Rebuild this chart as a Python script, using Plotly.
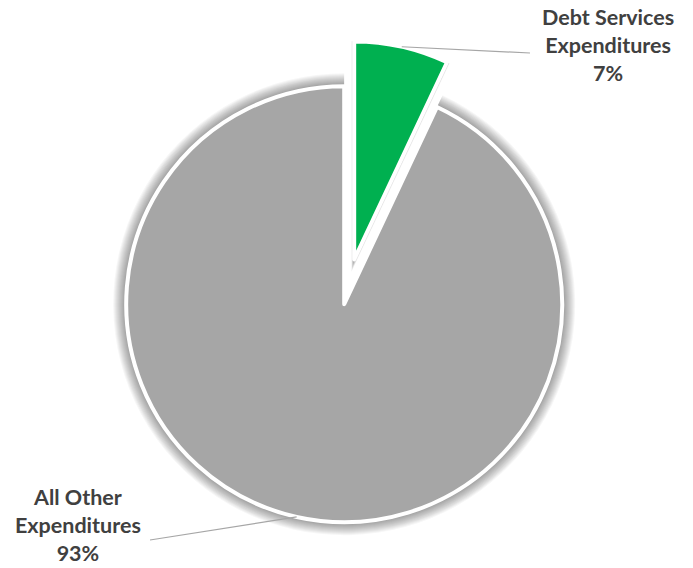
import math
import plotly.graph_objects as go

# Expenditure split
categories = ["Debt Services Expenditures", "All Other Expenditures"]
category_lines = [["Debt Services", "Expenditures"], ["All Other", "Expenditures"]]
shares = [7, 93]
slice_colors = ["#00B050", "#A6A6A6"]
explode = [0.21, 0.0]

# Canvas and pie geometry (pixels)
W, H = 693, 568
R = 218.0
CX, CY = 344.2, 304.2
RY = R * (1 + max(explode))          # half-size of the pie box

# Label placement (pixels): text centre and leader-line end
label_pos = [(608, 45), (78, 525)]
leader_end = [(530, 53), (150, 540)]

TEXT_COLOR = "#404040"
LEADER_COLOR = "#A6A6A6"
FONT = "Lato"


def px_to_paper(x, y):
    return x / W, 1 - y / H


dom_x = [(CX - RY - 20) / W, (CX + RY + 20) / W]
dom_y = [max(0.0, 1 - (CY + RY) / H), min(1.0, 1 - (CY - RY) / H)]

fig = go.Figure()

# Soft shadow: stacked translucent pies, each slightly larger
for k in range(1, 13):
    rk = R + 1 + k
    pulls = [(RY / rk - 1) if e > 0 else 0.0 for e in explode]
    fig.add_trace(go.Pie(
        labels=categories, values=shares, sort=False, direction="clockwise",
        rotation=0, pull=pulls, domain=dict(x=dom_x, y=dom_y),
        marker=dict(colors=["rgba(0,0,0,0.035)"] * len(shares),
                    line=dict(width=0)),
        textinfo="none", hoverinfo="skip", showlegend=False,
    ))

# Main pie
fig.add_trace(go.Pie(
    labels=categories, values=shares, sort=False, direction="clockwise",
    rotation=0, pull=explode, domain=dict(x=dom_x, y=dom_y),
    marker=dict(colors=slice_colors, line=dict(color="white", width=4)),
    textinfo="none", hoverinfo="label+percent", showlegend=False,
))

total = sum(shares)
cum = 0.0
annotations = []
shapes = []
for i, v in enumerate(shares):
    theta = 2 * math.pi * (cum + v / 2) / total
    cum += v
    dist = R * (1 + explode[i])
    ax = CX + dist * math.sin(theta)
    ay = CY - dist * math.cos(theta)
    x0, y0 = px_to_paper(ax, ay)
    x1, y1 = px_to_paper(*leader_end[i])
    shapes.append(dict(type="line", xref="paper", yref="paper",
                       x0=x0, y0=y0, x1=x1, y1=y1,
                       line=dict(color=LEADER_COLOR, width=1.2)))
    pct = f"{round(100 * v / total)}%"
    text = "<br>".join(category_lines[i] + [pct])
    tx, ty = px_to_paper(*label_pos[i])
    annotations.append(dict(
        x=tx, y=ty, xref="paper", yref="paper", xanchor="center",
        yanchor="middle", align="center", showarrow=False,
        text=f"<b>{text}</b>",
        font=dict(family=FONT, size=21.5, color=TEXT_COLOR),
    ))

fig.update_layout(
    width=W, height=H,
    margin=dict(l=0, r=0, t=0, b=0),
    paper_bgcolor="white", plot_bgcolor="white",
    annotations=annotations, shapes=shapes,
)

fig.write_html("out.html")
